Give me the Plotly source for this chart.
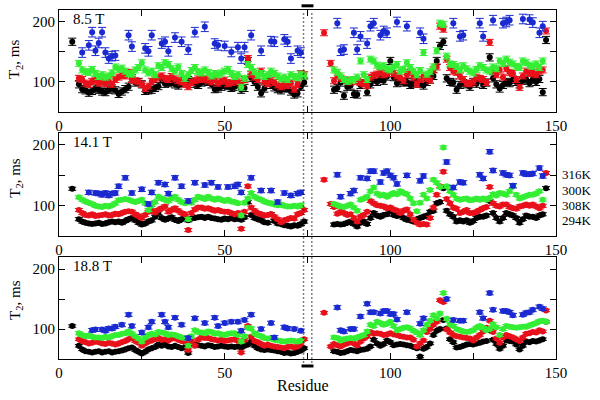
import plotly.graph_objects as go

# ---------------- data ----------------
res_a = list(range(4, 75))     # residues before the gap
res_b = list(range(80, 149))   # residues after the gap
residues = res_a + res_b

# ---- 8.5 T ----
black_85 = [167, None, 96, 88, 86, 82, 85, 89, 87, 84,
            83, 87, 89, 86, 80, 84, 88, 92, 106, 99,
            100, 96, 85, 86, 87, 90, 93, 104, 97, 98,
            100, 96, 94, 98, 101, 103, 100, 97, 95, 99,
            101, 100, 96, 88, 89, 92, 95, 93, 90, 92,
            96, 87, 90, 135, 107, 100, 92, 81, 89, 104,
            95, 91, 88, 86, 90, 89, 84, 79, 81, 92,
            99] + \
           [None, None, None, 87, 90, 99, 77, 92, 94, 80,
            79, 95, 98, 83, 96, 104, 100, 105, 102, 109,
            135, 108, 98, 101, 99, 100, 95, 97, 101, 97,
            94, 100, 104, 110, 135, 160, 167, 106, 100, 99,
            87, 95, 98, 96, 92, 100, 97, 104, 95, 99,
            141, 106, 96, 89, 95, 100, 98, 104, 100, 96,
            102, 104, 98, 104, 100, 105, 83, 170, None]
red_85 = [None, None, 106, 104, 98, 96, 101, 103, 98, 100,
          97, 102, 96, 104, 108, 111, 110, 116, 104, 102,
          100, 96, 89, 93, 101, 105, 108, 110, 106, 104,
          109, 105, 102, 100, 96, 92, 99, 102, 105, 104,
          106, 103, 100, 104, 98, 101, 103, 97, 99, 102,
          100, 97, 104, 139, 112, 108, 104, 118, 100, 97,
          102, 99, 95, 92, 96, 94, 98, 88, 96, 114,
          112] + \
         [182, None, 131, 102, 110, 106, 104, 103, 100, 104,
          101, 99, 97, 94, 108, 111, 113, 116, 112, 114,
          118, 114, 110, 107, 102, 112, 116, 108, 96, 104,
          110, 106, 103, 120, 125, 193, 188, 138, 124, 118,
          116, 110, 104, 98, 97, 100, 108, 106, 104, 99,
          166, 118, 112, 120, 108, 122, 116, 114, 104, 91,
          110, 118, 114, 116, 112, 118, 120, 185, None]
green_85 = [None, None, 131, 120, 117, 116, 121, 114, 109, 112,
            108, 110, 115, 125, 121, 123, 118, 114, 113, 120,
            124, 132, 120, 115, 118, 112, 127, 124, 132, 129,
            122, 118, 125, 114, 106, 112, 119, 124, 117, 115,
            120, 116, 110, 114, 112, 115, 118, 121, 114, 109,
            112, 91, 106, 129, 124, 117, 111, 114, 109, 112,
            118, 114, 110, 105, 108, 104, 112, 109, 107, 113,
            110] + \
           [None, None, None, 120, 116, 110, 104, 101, 103, 104,
            108, 135, 112, 104, 138, 135, 128, 125, 127, 122,
            120, 125, 129, 118, 121, 132, 124, 118, 112, 119,
            149, 113, 117, 125, 152, 198, 196, 143, 130, 129,
            126, 120, 127, 122, 118, 115, 121, 127, 124, 120,
            118, 125, 122, 135, 131, 138, 133, 130, 126, 124,
            135, 132, 128, 126, 130, 124, 135, None, None]
blue_res_85 = [7, 9, 10, 11, 12, 13, 14, 15, 16, 17, 21, 22, 26, 27, 28, 31, 32, 33,
               35, 37, 39, 41, 44, 47, 48, 50, 52, 54, 55, 56, 58, 61, 64, 65, 68,
               69, 70, 72, 73,
               84, 85, 86, 89, 90, 91, 93, 94, 95, 97, 98, 99, 102, 105, 109, 110,
               119, 121, 122, 127, 128, 131, 134, 135, 136, 140, 142, 143, 145, 146]
blue_85 = [149, 161, 183, 152, 165, 183, 149, 139, 143, 144, 178, 159, 156, 151, 178, 164, 167, 151,
           174, 167, 154, 183, 192, 164, 161, 160, 150, 158, 139, 158, 178, 152, 168, 167, 171,
           167, 139, 152, 149,
           198, 152, 154, 182, 154, 176, 164, 193, 198, 178, 185, 182, 200, 193, 182, 172,
           198, 176, 178, 198, 176, 203, 198, 200, 203, 205, 204, 199, 182, 193]

# ---- 14.1 T ----
black_141 = [128, None, 78, 74, 72, 71, 70, 71, 72, 70,
             71, 73, 74, 73, 74, 72, 75, 78, 80, 76,
             72, 69, 71, 74, 76, 82, 88, 80, 77, 79,
             81, 77, 75, 78, 80, 76, 79, 80, 81, 82,
             80, 82, 80, 79, 78, 77, 79, 78, 80, 78,
             79, 77, 81, 106, 85, 80, 78, 76, 73, 72,
             86, 75, 71, 70, 68, 67, 66, 68, 67, 70,
             74] + \
            [None, None, None, 69, 70, 69, 70, 72, 74, 70,
             66, 72, 74, 70, 80, 88, 84, 82, 85, 86,
             91, 85, 83, 84, 80, 77, 76, 74, 78, 80,
             82, 84, 90, 92, 104, 106, 129, 92, 86, 82,
             74, 76, 74, 76, 72, 75, 80, 82, 82, 84,
             108, 88, 80, 74, 80, 88, 86, 84, 80, 72,
             78, 84, 82, 82, 80, 84, 86, 129, None]
red_141 = [None, None, 93, 88, 85, 84, 86, 83, 84, 85,
           86, 84, 85, 87, 86, 88, 90, 91, 90, 86,
           83, 80, 85, 90, 92, 89, 93, 96, 99, 90,
           93, 96, 92, 88, 86, 60, 88, 94, 97, 97,
           95, 96, 94, 92, 93, 91, 90, 90, 88, 86,
           88, 62, 90, 132, 97, 92, 88, 86, 84, 85,
           86, 82, 78, 73, 76, 78, 80, 79, 86, 88,
           93] + \
          [143, None, 103, 98, 87, 90, 88, 85, 86, 80,
           74, 82, 85, 90, 108, 104, 101, 100, 99, 96,
           97, 94, 92, 88, 92, 94, 86, 77, 72, 69,
           70, 69, 80, 97, 118, 132, 156, 111, 104, 97,
           95, 88, 90, 93, 88, 88, 90, 93, 96, 98,
           131, 104, 100, 99, 102, 102, 98, 96, 95, 99,
           100, 102, 100, 102, 99, 96, 100, 154, None]
green_141 = [None, None, 114, 110, 107, 105, 103, 100, 99, 98,
             100, 99, 101, 104, 109, 110, 111, 110, 108, 106,
             108, 110, 104, 93, 101, 106, 115, 112, 110, 108,
             112, 115, 110, 106, 104, 78, 105, 110, 115, 113,
             111, 115, 112, 110, 112, 110, 108, 110, 107, 106,
             104, 84, 105, 112, 121, 115, 112, 110, 107, 105,
             104, 102, 101, 102, 100, 99, 99, 100, 99, 101,
             None] + \
            [None, None, None, 103, 101, 99, 98, 100, 102, 97,
             92, 110, 112, 115, 124, 130, 120, 117, 118, 115,
             118, 121, 119, 124, 121, 119, 112, 104, 91, 105,
             118, 112, 126, 143, 138, 131, 196, 132, 124, 118,
             112, 110, 111, 112, 109, 110, 112, 110, 112, 110,
             113, 119, 117, 121, 120, 118, 124, 132, 118, 112,
             114, 116, 118, 118, 120, 124, 110, None, None]
blue_res_141 = [9, 11, 12, 13, 14, 15, 16, 17, 18, 20, 22, 25, 27, 28, 30, 32, 33, 35, 37,
                39, 41, 44, 46, 48, 51, 53, 54, 55, 58, 61, 64, 66, 68, 70, 72, 73,
                84, 85, 88, 89, 91, 93, 94, 95, 97, 98, 99, 100, 101, 102, 105, 109, 110,
                117, 119, 121, 122, 127, 128, 130, 131, 134, 135, 136, 137, 140, 141, 142,
                143, 145, 146]
blue_141 = [122, 121, 120, 118, 121, 117, 120, 121, 132, 146, 121, 127, 103, 122, 138, 135, 120, 146, 132,
            108, 138, 134, 138, 131, 131, 132, 135, 122, 146, 125, 125, 106, 121, 117, 120, 122,
            151, 115, 120, 125, 146, 145, 157, 157, 139, 154, 157, 150, 146, 136, 150, 141, 149,
            172, 130, 139, 138, 151, 145, 189, 158, 154, 151, 150, 133, 154, 152, 152,
            153, 162, 149]

# ---- 18.8 T ----
black_188 = [105, None, 72, 66, 63, 62, 61, 62, 63, 61,
             62, 63, 61, 62, 63, 64, 66, 68, 69, 65,
             62, 59, 62, 66, 68, 70, 74, 72, 75, 71,
             70, 72, 70, 68, 69, 60, 76, 74, 73, 72,
             71, 73, 72, 70, 71, 72, 71, 70, 71, 70,
             71, 69, 72, 74, 79, 72, 68, 66, 65, 66,
             65, 64, 63, 62, 60, 61, 59, 60, 62, 64,
             68] + \
            [None, None, None, 63, 62, 60, 61, 63, 65, 64,
             63, 65, 66, 67, 71, 82, 76, 72, 75, 81,
             78, 73, 74, 75, 74, 73, 72, 70, 68, 54,
             67, 70, 76, 90, 97, 100, 115, 101, 83, 78,
             69, 70, 72, 74, 75, 74, 76, 77, 79, 80,
             98, 82, 75, 67, 72, 81, 80, 79, 74, 66,
             72, 79, 78, 80, 79, 81, 83, 112, None]
red_188 = [None, None, 83, 80, 78, 76, 77, 79, 78, 76,
           75, 77, 76, 74, 76, 78, 80, 83, 85, 80,
           77, 72, 76, 79, 81, 83, 85, 82, 83, 81,
           84, 85, 82, 80, 78, 65, 80, 72, 82, 86,
           85, 85, 83, 82, 81, 82, 80, 81, 82, 83,
           80, 61, 82, 105, 87, 80, 78, 75, 72, 74,
           72, 71, 70, 69, 68, 70, 71, 69, 71, 75,
           83] + \
          [127, None, 71, 75, 73, 71, 74, 76, 78, 76,
           73, 79, 84, 88, 95, 92, 93, 92, 90, 91,
           93, 91, 90, 88, 87, 86, 86, 82, 71, 76,
           81, 95, 100, 107, 112, 148, 145, 99, 94, 90,
           88, 87, 86, 85, 84, 81, 86, 90, 96, 102,
           114, 95, 84, 77, 86, 90, 88, 86, 83, 80,
           86, 92, 93, 95, 94, 98, 96, 131, None]
green_188 = [None, None, 93, 90, 88, 89, 87, 86, 86, 85,
             87, 86, 88, 90, 90, 92, 93, 96, 92, 88,
             84, 79, 86, 90, 92, 91, 95, 94, 93, 90,
             91, 90, 88, 86, 85, 72, 88, 98, 95, 94,
             93, 96, 95, 92, 93, 91, 90, 92, 93, 93,
             90, 79, 88, 102, 101, 93, 90, 88, 85, 84,
             85, 82, 81, 80, 79, 80, 81, 80, 79, 81,
             None] + \
            [None, None, None, 86, 85, 81, 83, 84, 85, 84,
             86, 88, 90, 96, 107, 105, 112, 110, 107, 109,
             112, 105, 98, 100, 102, 103, 101, 97, 94, 90,
             98, 107, 114, 123, 118, 126, 160, 117, 108, 105,
             100, 98, 96, 95, 96, 98, 102, 105, 102, 98,
             100, 108, 103, 90, 100, 105, 104, 103, 102, 103,
             104, 104, 106, 108, 110, 113, 114, 112, None]
blue_res_188 = [10, 11, 13, 14, 15, 16, 17, 19, 21, 22, 25, 27, 28, 31, 32, 33, 35, 37, 39,
                41, 44, 47, 48, 50, 52, 54, 55, 56, 58, 61, 64, 65, 68, 69, 71, 73,
                84, 85, 86, 88, 89, 91, 93, 94, 95, 97, 98, 99, 100, 101, 102, 105, 109,
                110, 117, 119, 121, 122, 127, 128, 130, 131, 134, 135, 136, 137, 140, 141,
                142, 143, 145, 146]
blue_188 = [98, 99, 99, 97, 101, 101, 104, 107, 124, 105, 94, 103, 112, 124, 112, 103, 119, 107, 85,
            118, 110, 119, 105, 110, 112, 112, 97, 115, 124, 100, 110, 86, 103, 101, 100, 97,
            136, 98, 96, 100, 100, 121, 142, 128, 128, 126, 130, 130, 125, 125, 116, 128, 109,
            118, 150, 115, 114, 114, 128, 118, 160, 132, 130, 130, 128, 123, 124, 127,
            128, 132, 137, 134]

err_85 = {"black": 6, "red": 5, "green": 5, "blue": 8}
err_141 = {"black": 2.5, "red": 2.5, "green": 2.5, "blue": 3.5}
err_188 = {"black": 2, "red": 2, "green": 2.5, "blue": 3}

field_labels = ["8.5 T", "14.1 T", "18.8 T"]
temp_labels = ["316K", "300K", "308K", "294K"]
temp_label_values = [151, 125, 100, 75]

# ---------------- figure ----------------
COL = {"black": "#000000", "red": "#e8101a", "green": "#33ee33", "blue": "#1a2ad0"}
FONT = "Liberation Serif"

panels = [
    (1, {"black": (residues, black_85), "red": (residues, red_85),
         "green": (residues, green_85), "blue": (blue_res_85, blue_85)}, err_85),
    (2, {"black": (residues, black_141), "red": (residues, red_141),
         "green": (residues, green_141), "blue": (blue_res_141, blue_141)}, err_141),
    (3, {"black": (residues, black_188), "red": (residues, red_188),
         "green": (residues, green_188), "blue": (blue_res_188, blue_188)}, err_188),
]

fig = go.Figure()
for idx, series, errs in panels:
    xa = "x" if idx == 1 else f"x{idx}"
    ya = "y" if idx == 1 else f"y{idx}"
    for name in ["black", "red", "green", "blue"]:
        xs, ys = series[name]
        fig.add_trace(go.Scatter(
            x=xs, y=ys, mode="markers", xaxis=xa, yaxis=ya, showlegend=False,
            marker=dict(color=COL[name], size=6, line=dict(width=0)),
            error_y=dict(type="constant", value=errs[name], color=COL[name],
                         thickness=1, width=4),
        ))

domains = [[0.708, 1.0], [0.352, 0.648], [0.0, 0.292]]
layout = dict(
    width=600, height=400, margin=dict(l=59, r=44, t=10, b=41, autoexpand=False),
    paper_bgcolor="white", plot_bgcolor="white",
    font=dict(family=FONT, size=14, color="black"),
)
for i, dom in enumerate(domains, start=1):
    xk = "xaxis" if i == 1 else f"xaxis{i}"
    yk = "yaxis" if i == 1 else f"yaxis{i}"
    layout[xk] = dict(
        domain=[0, 1], anchor="y" if i == 1 else f"y{i}", range=[0, 150],
        tickvals=[0, 25, 50, 75, 100, 125, 150],
        ticktext=["0", "", "50", "", "100", "", "150"],
        ticks="inside", ticklen=6, tickcolor="black", mirror="ticks",
        showline=True, linecolor="black", linewidth=1, showgrid=False, zeroline=False,
        tickfont=dict(family=FONT, size=15), automargin=False,
    )
    layout[yk] = dict(
        domain=dom, anchor="x" if i == 1 else f"x{i}", range=[50, 220],
        tickvals=[100, 150, 200], ticktext=["100", "", "200"],
        ticks="inside", ticklen=6, tickcolor="black", mirror="ticks",
        showline=True, linecolor="black", linewidth=1, showgrid=False, zeroline=False,
        tickfont=dict(family=FONT, size=15), automargin=False,
    )
fig.update_layout(**layout)

ann = []
title_y = [0.86, 0.52, 0.17]
for i, (lab, ty) in enumerate(zip(field_labels, title_y), start=1):
    ann.append(dict(text=lab, xref="x" if i == 1 else f"x{i}", yref="y" if i == 1 else f"y{i}",
                    x=3.5, y=205, xanchor="left", yanchor="middle", showarrow=False,
                    font=dict(family=FONT, size=15)))
    ann.append(dict(text="T<sub>2</sub>, ms", xref="paper", yref="paper", x=-0.088, y=ty,
                    textangle=-90, xanchor="center", yanchor="middle", showarrow=False,
                    font=dict(family=FONT, size=15)))
for lab, val in zip(temp_labels, temp_label_values):
    ann.append(dict(text=lab, xref="paper", yref="y2", x=1.008, y=val, xanchor="left",
                    yanchor="middle", showarrow=False, font=dict(family=FONT, size=13)))
ann.append(dict(text="Residue", xref="paper", yref="paper", x=0.49, y=-0.045,
                xanchor="center", yanchor="top", showarrow=False, font=dict(family=FONT, size=16)))
fig.update_layout(annotations=ann)

shapes = []
for xv in [73.8, 76.3]:
    shapes.append(dict(type="line", xref="x", yref="paper", x0=xv, x1=xv, y0=-0.01, y1=0.995,
                       line=dict(color="black", width=1.5, dash="1px,3px")))
for yv in [1.012, -0.02]:
    shapes.append(dict(type="line", xref="x", yref="paper", x0=73.2, x1=76.8, y0=yv, y1=yv,
                       line=dict(color="black", width=3)))
fig.update_layout(shapes=shapes)

fig.write_html("out.html", config={"displayModeBar": False},
               post_script="document.body.style.margin='0';")
